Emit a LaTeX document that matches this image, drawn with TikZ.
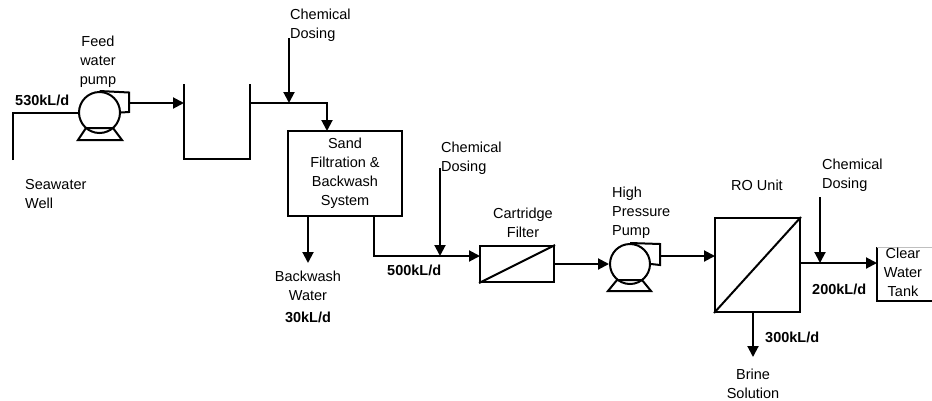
\documentclass[tikz,border=0pt]{standalone}
\usepackage{fontspec}
\setmainfont{Liberation Sans}
\usetikzlibrary{arrows.meta}
\begin{document}
\begin{tikzpicture}[x=1pt,y=-1pt,
  pipe/.style={line width=2pt},
  flow/.style={pipe,-{Triangle[length=11pt,width=11pt]}},
  lbl/.style={inner sep=0pt,font=\fontsize{14.5}{19}\selectfont,align=center},
  lbll/.style={lbl,align=left,anchor=west},
  rate/.style={inner sep=0pt,font=\fontsize{14.5}{19}\selectfont\bfseries},
  unit/.style={draw,line width=2pt,inner sep=0pt}]
\useasboundingbox (0,0) rectangle (932,400);

% feed water pump
\node[unit,circle,minimum size=41pt] (fp) at (99.5,112.5) {};
\draw[pipe] (fp.north) -- (129,92.5) -- (129,112) -- (fp.east);
\draw[pipe] (86,128) -- (113,128) -- (122,140) -- (78,140) -- cycle;
\coordinate (well) at (13,160);
\coordinate (fpout) at (129,103);
\draw[pipe] (well) |- (fp.west);

% intake tank
\coordinate (tl) at (184,84);
\coordinate (tr) at (250,84);
\coordinate (tankin) at (184,103);
\coordinate (tankout) at (250,103);
\draw[pipe] (tl) -- (184,159) -- (250,159) -- (tr);
\draw[flow] (fpout) -- (tankin);

% sand filtration
\node[unit,lbl,minimum width=114pt,minimum height=85pt] (sand) at (345,173.5) {Sand\\Filtration \&\\Backwash\\System};
\coordinate (sandin) at (327,131);
\coordinate (d1) at (289,38);
\coordinate (d1t) at (289,103);
\draw[flow] (tankout) -| (sandin);
\draw[flow] (d1) -- (d1t);

% backwash
\coordinate (bwtop) at (308,216);
\coordinate (bw) at (308,263);
\draw[flow] (bwtop) -- (bw);

% cartridge filter
\node[unit,minimum width=74pt,minimum height=36pt] (cart) at (517,264) {};
\draw[pipe] (cart.south west) -- (cart.north east);
\coordinate (sandout) at (374,216);
\coordinate (cartin) at (480,256);
\draw[flow] (sandout) |- (cartin);
\coordinate (d2) at (440,168);
\coordinate (d2t) at (440,256);
\draw[flow] (d2) -- (d2t);

% high pressure pump
\node[unit,circle,minimum size=40pt] (hp) at (630,264) {};
\draw[pipe] (hp.north) -- (660,244) -- (660,265) -- (hp.east);
\draw[pipe] (617,280) -- (642,280) -- (651,291) -- (608,291) -- cycle;
\draw[flow] (cart.east) -- (hp.west);

% RO unit
\node[unit,minimum width=85pt,minimum height=94pt] (ro) at (757.5,265) {};
\draw[pipe] (ro.south west) -- (ro.north east);
\coordinate (hpout) at (660,256);
\coordinate (roin) at (715,256);
\draw[flow] (hpout) -- (roin);
\coordinate (roout) at (800,263);
\coordinate (ctin) at (877,263);
\draw[flow] (roout) -- (ctin);
\coordinate (d3) at (820,197);
\coordinate (d3t) at (820,263);
\draw[flow] (d3) -- (d3t);
\coordinate (brtop) at (753,312);
\coordinate (br) at (753,357);
\draw[flow] (brtop) -- (br);

% clear water tank
\coordinate (ctl) at (877,247);
\draw[pipe] (ctl) -- (877,301) -- (932,301);
\draw[black!25,line width=0.8pt] (ctl) -- (932,247);

% labels
\node[lbl] (lfp) at (98,62) {Feed\\water\\pump};
\node[rate,anchor=west] (r530) at (15,100) {530kL/d};
\node[lbll] (lwell) at (25,194) {Seawater\\Well};
\node[lbll] (lc1) at (290,25) {Chemical\\Dosing};
\node[lbl] (lbw) at (308,286) {Backwash\\Water};
\node[rate] (r30) at (308,317) {30kL/d};
\node[lbll] (lc2) at (441,158) {Chemical\\Dosing};
\node[rate,anchor=west] (r500) at (387,270) {500kL/d};
\node[lbl] (lcart) at (523,223) {Cartridge\\Filter};
\node[lbll] (lhp) at (612,213) {High\\Pressure\\Pump};
\node[lbl] (lro) at (757,185) {RO Unit};
\node[lbll] (lc3) at (822,175) {Chemical\\Dosing};
\node[rate,anchor=west] (r200) at (812,289) {200kL/d};
\node[lbl] (lct) at (903,272) {Clear\\Water\\Tank};
\node[rate,anchor=west] (r300) at (765,337) {300kL/d};
\node[lbl] (lbr) at (753,384) {Brine\\Solution};
\end{tikzpicture}
\end{document}
